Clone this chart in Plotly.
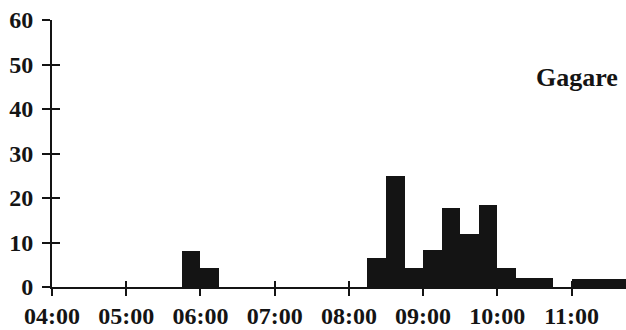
import plotly.graph_objects as go

# 15-minute bins (start times) and counts
bin_starts = ["05:45", "06:00", "08:15", "08:30", "08:45", "09:00", "09:15",
              "09:30", "09:45", "10:00", "10:15", "10:30", "11:00", "11:15", "11:30"]
counts = [8, 4.3, 6.6, 25, 4.3, 8.4, 17.8, 11.9, 18.4, 4.3, 2.0, 2.0, 1.9, 1.9, 1.9]
tick_labels = ["04:00", "05:00", "06:00", "07:00", "08:00", "09:00", "10:00", "11:00"]
y_ticks = [0, 10, 20, 30, 40, 50, 60]
station = "Gagare"

day = "2000-01-01 "
x_vals = [day + t for t in bin_starts]
tick_vals = [day + t for t in tick_labels]
x_range = [day + "04:00", day + "11:44"]
bin_ms = 15 * 60 * 1000

ink = "#141414"
fam = "Liberation Serif, Times New Roman, serif"
font = dict(family=fam, size=24, color=ink, weight="bold")

fig = go.Figure()
fig.add_trace(go.Bar(
    x=x_vals, y=counts, width=bin_ms, offset=0,
    marker=dict(color=ink, line=dict(width=0)),
))
# invisible trace to activate overlay axes (for crossing ticks)
fig.add_trace(go.Scatter(x=x_vals, y=counts, xaxis="x2", yaxis="y2",
                         mode="markers", marker=dict(opacity=0), showlegend=False,
                         hoverinfo="skip"))

fig.update_layout(
    width=626, height=330,
    margin=dict(l=52, r=0, t=20, b=43),
    plot_bgcolor="white", paper_bgcolor="white",
    showlegend=False, bargap=0,
    font=font,
    xaxis=dict(type="date", range=x_range, tickvals=tick_vals, ticktext=tick_labels,
               showgrid=False, zeroline=False, showline=True, linecolor=ink, linewidth=2,
               ticks="outside", ticklen=7, tickwidth=2, tickcolor=ink,
               ticklabelstandoff=-1, tickfont=font),
    yaxis=dict(range=[0, 60], tickvals=y_ticks, showgrid=False, zeroline=False,
               showline=True, linecolor=ink, linewidth=2,
               ticks="outside", ticklen=8, tickwidth=2, tickcolor=ink,
               ticklabelstandoff=4, tickfont=font),
    xaxis2=dict(type="date", range=x_range, tickvals=tick_vals, overlaying="x",
                side="bottom", showticklabels=False, showgrid=False, zeroline=False,
                showline=False, ticks="inside", ticklen=6, tickwidth=2, tickcolor=ink,
                anchor="y2"),
    yaxis2=dict(range=[0, 60], tickvals=y_ticks, overlaying="y", side="left",
                showticklabels=False, showgrid=False, zeroline=False, showline=False,
                ticks="inside", ticklen=8, tickwidth=2, tickcolor=ink, anchor="x2"),
    annotations=[dict(text=station, xref="paper", yref="paper", x=0.915, y=0.784,
                      xanchor="center", yanchor="middle", showarrow=False,
                      font=dict(family=fam, size=26, color=ink, weight="bold"))],
)

fig.write_html("out.html")
